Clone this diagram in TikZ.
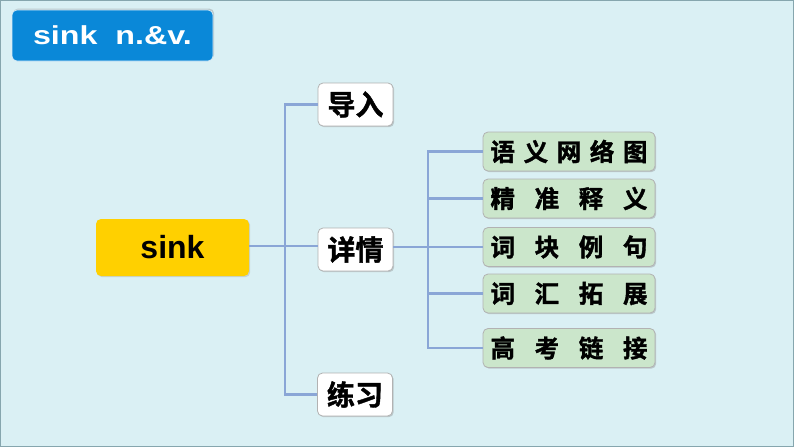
\documentclass[tikz,border=0pt]{standalone}
\usepackage{fontspec}
\usepackage{tikz}
\usetikzlibrary{shadows}
\setmainfont{Liberation Sans}
\newfontfamily\cjk{Noto Sans CJK SC}[BoldFont={Noto Sans CJK SC Bold},BoldFeatures={FakeBold=1.5}]
\definecolor{bgblue}{HTML}{DAF0F4}
\definecolor{framegray}{HTML}{86A6AE}
\definecolor{titleblue}{HTML}{0A88D8}
\definecolor{rootyellow}{HTML}{FFD000}
\definecolor{leafgreen}{HTML}{CBE6CB}
\definecolor{linkblue}{HTML}{8AA6D6}

\begin{document}
\begin{tikzpicture}[x=1pt,y=-1pt,
        box/.style={rounded corners=5pt,draw=gray!60,line width=0.8pt,inner sep=0pt,
            drop shadow={shadow xshift=1.2pt,shadow yshift=-1.2pt,opacity=0.35}},
        topic/.style={box,fill=white,minimum width=75pt,minimum height=43pt,font=\cjk\bfseries\fontsize{28}{28}\selectfont},
        leaf/.style={box,fill=leafgreen,minimum width=172pt,minimum height=39pt,font=\cjk\bfseries\fontsize{24.5}{24.5}\selectfont},
        link/.style={linkblue,line width=2.8pt}]
        \fill[bgblue] (0,0) rectangle (794,447);
        \draw[framegray,line width=1pt] (0.5,0.5) rectangle (793.5,446.5);
        \node[rounded corners=5pt,fill=titleblue,draw=white!85!titleblue,line width=0.6pt,minimum width=201pt,minimum height=51pt,inner sep=0pt,
            drop shadow={shadow xshift=1.2pt,shadow yshift=1.5pt,opacity=0.35},
            font=\bfseries\fontsize{26}{26}\selectfont,text=white] (title) at (112.5,35.5) {\scalebox{1.24}[1]{sink\ \ n.\&v.}};
        \node[rounded corners=5pt,fill=rootyellow,minimum width=153pt,minimum height=57pt,inner sep=0pt,
            drop shadow={shadow xshift=1.2pt,shadow yshift=-1.2pt,opacity=0.25},
            font=\bfseries\fontsize{32}{32}\selectfont] (sink) at (172.5,247.5) {sink};
        \coordinate (trunk) at (285,246);
        \node[topic] (intro) at (355.5,104.5) {导入};
        \node[topic] (detail) at (355.5,249.5) {详情};
        \node[topic] (practice) at (355,394.5) {练习};
        \coordinate (branch) at (428,247);
        \node[leaf] (web) at (569,151.5) {\makebox[157pt][s]{语\hfill{}义\hfill{}网\hfill{}络\hfill{}图}};
        \node[leaf] (meaning) at (569,198.5) {\makebox[157pt][s]{精\hfill{}准\hfill{}释\hfill{}义}};
        \node[leaf] (chunk) at (569,247) {\makebox[157pt][s]{词\hfill{}块\hfill{}例\hfill{}句}};
        \node[leaf] (vocab) at (569,293.5) {\makebox[157pt][s]{词\hfill{}汇\hfill{}拓\hfill{}展}};
        \node[leaf] (exam) at (569,348) {\makebox[157pt][s]{高\hfill{}考\hfill{}链\hfill{}接}};
        \draw[link] (sink.east |- trunk) -- (trunk);
        \draw[link] (intro.west) -| (trunk) |- (practice.west);
        \draw[link] (trunk) -- (detail.west |- trunk);
        \draw[link] (detail.east |- branch) -- (branch);
        \draw[link] (web.west) -| (branch) |- (exam.west);
        \draw[link] (branch |- meaning.west) -- (meaning.west);
        \draw[link] (branch) -- (chunk.west);
        \draw[link] (branch |- vocab.west) -- (vocab.west);
\end{tikzpicture}
\end{document}
